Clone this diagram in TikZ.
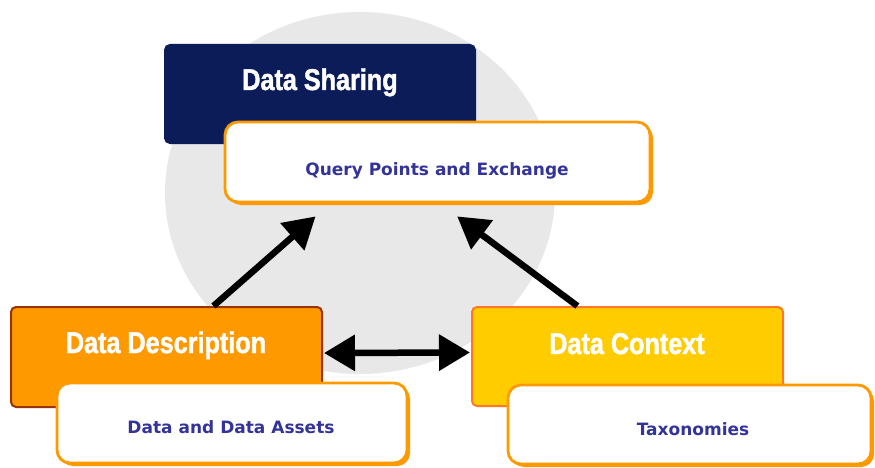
\documentclass[tikz,border=0pt]{standalone}
\usepackage{fontspec}
\setmainfont{DejaVu Sans}
\newfontfamily\headfont[FakeStretch=0.84,FakeBold=1.5]{Liberation Sans}
\newfontfamily\subfont{DejaVu Sans}
\usetikzlibrary{arrows.meta,shadows,calc}
\definecolor{navy}{RGB}{12,28,88}
\definecolor{ddfill}{RGB}{255,153,0}
\definecolor{ddborder}{RGB}{153,51,0}
\definecolor{dcfill}{RGB}{255,204,0}
\definecolor{dcborder}{RGB}{255,120,40}
\definecolor{boxorange}{RGB}{255,153,0}
\definecolor{circgray}{RGB}{232,232,232}
\definecolor{textblue}{RGB}{51,51,153}
\begin{document}
\begin{tikzpicture}[x=1pt,y=-1pt,
  headbox/.style={rectangle, rounded corners=5pt, line width=2pt, inner sep=0pt},
  subbox/.style={rectangle, rounded corners=13pt, draw=boxorange, line width=2.8pt, fill=white, inner sep=0pt,
    drop shadow={shadow xshift=3pt, shadow yshift=-3pt, fill=boxorange, opacity=1}},
  title/.style={anchor=base, text=white, font=\headfont\bfseries\fontsize{30}{30}\selectfont, inner sep=0pt},
  subtitle/.style={anchor=base, text=textblue, font=\subfont\bfseries\fontsize{17}{17}\selectfont, inner sep=0pt},
  conn/.style={line width=6.5pt, -{Triangle[length=31pt,width=35pt]}},
  dconn/.style={line width=6.5pt, {Triangle[length=31pt,width=35pt]}-{Triangle[length=31pt,width=35pt]}}
]
\useasboundingbox (0,0) rectangle (875,468);
\fill[white] (0,0) rectangle (875,468);
\fill[circgray] (360,193) ellipse [x radius=195, y radius=181];

\node[headbox, fill=navy, draw=navy, minimum width=310pt, minimum height=98pt] (ds) at (320,94) {};
\node[title] (dst) at (320,90) {Data Sharing};
\node[subbox, minimum width=425pt, minimum height=80pt] (qp) at (437.5,162) {};
\node[subtitle] (qpt) at (437,175) {Query Points and Exchange};

\node[headbox, fill=ddfill, draw=ddborder, minimum width=311pt, minimum height=100pt] (dd) at (166.5,357) {};
\node[title] (ddt) at (166,353) {Data Description};
\node[subbox, minimum width=350pt, minimum height=80pt] (dda) at (232,423) {};
\node[subtitle] (ddat) at (231,433) {Data and Data Assets};

\node[headbox, fill=dcfill, draw=dcborder, minimum width=311pt, minimum height=99pt] (dc) at (627.5,356.5) {};
\node[title] (dct) at (627,354) {Data Context};
\node[subbox, minimum width=363pt, minimum height=79pt] (tax) at (689.5,424.5) {};
\node[subtitle] (taxt) at (693,435) {Taxonomies};

\draw[conn] ($(dd.north west)!0.65!(dd.north east)$) -- ($(qp.south west)!0.215!(qp.south east)+(0,13)$);
\draw[conn] ($(dc.north west)!0.34!(dc.north east)$) -- ($(qp.south west)!0.546!(qp.south east)+(0,13)$);
\draw[dconn] ($(dd.east)+(1,-4)$) -- ($(dc.west)+(-1,-4)$);
\end{tikzpicture}
\end{document}
